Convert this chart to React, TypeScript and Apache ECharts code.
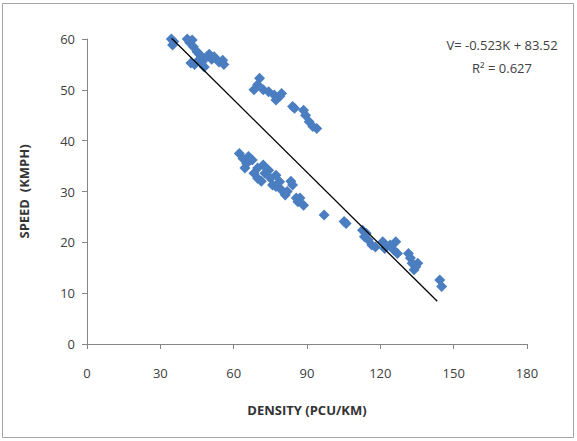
import React, { useEffect, useRef } from "react";
import * as echarts from "echarts";

const densityTicks = [0, 30, 60, 90, 120, 150, 180];
const speedTicks = [0, 10, 20, 30, 40, 50, 60];

// Observed points: [density (PCU/km), speed (km/h)]
const clusterFreeFlow: number[][] = [
  [34.5, 60], [35.5, 59.5], [36, 60.3], [35, 58.8], [41, 60], [42, 59.3], [43, 59.8],
  [43.5, 58.5], [45, 57.5], [46, 57], [42.5, 55.3], [44, 55], [47, 55.5], [48, 54.5],
  [49, 56.5], [50, 57], [51, 56], [52, 56.5], [54, 55.5], [55.5, 55.8], [56, 55], [46, 56],
];
const clusterUpper: number[][] = [
  [70.6, 52.3], [69.8, 51], [68.3, 50], [72.1, 50], [74.3, 49.6], [76.6, 49], [78.8, 48.7],
  [77.3, 48], [79.6, 49.3], [84.1, 46.7], [84.9, 46.4], [88.6, 46], [89.4, 45], [90.9, 43.7],
  [92.4, 42.8], [94, 42.4],
];
const clusterLower: number[][] = [
  [62.3, 37.5], [63.8, 36.5], [66.1, 36.9], [65.3, 35.5], [67.6, 36.2], [64.6, 34.6],
  [68.3, 33.6], [69.8, 32.6], [72.1, 35.2], [72.8, 33.6], [71.3, 32], [75.1, 32.6],
  [75.9, 31.3], [77.3, 31], [78.8, 31.9], [79.6, 30.3], [81.9, 30], [81.1, 29.3],
  [83.4, 32], [84.1, 31.3], [85.6, 28.7], [87.1, 28.7], [86.3, 28], [88.6, 27.3],
  [69.8, 34.6], [74.3, 34.2], [77.3, 33.2],
];
const clusterMid: number[][] = [[97, 25.4], [105.2, 24.1], [106, 23.7]];
const clusterJam: number[][] = [
  [112.7, 22.4], [114.2, 21.8], [115, 20.5], [113.5, 21.1], [116.5, 19.5], [118, 19.1],
  [121, 20.1], [121.8, 18.8], [124, 19.5], [126.3, 20.1], [125.5, 18.5], [127, 17.8],
  [131.5, 17.8], [132.3, 16.9], [133, 15.9], [134.5, 15.2], [135.3, 15.9], [133.8, 14.6],
  [144.3, 12.6], [145.1, 11.3],
];
const trendLine: number[][] = [[34.5, 60.2], [143.3, 8.4]];
const equationLines = ["V= -0.523K + 83.52", "R\u00B2 = 0.627"];

const FONT = "'Liberation Sans Narrow', 'Open Sans', sans-serif";

export default function App() {
  const ref = useRef<HTMLDivElement>(null);
  useEffect(() => {
    if (!ref.current) return;
    const chart = echarts.init(ref.current, undefined, { renderer: "svg" });
    const points = [...clusterFreeFlow, ...clusterUpper, ...clusterLower, ...clusterMid, ...clusterJam];
    chart.setOption({
      animation: false,
      backgroundColor: "#ffffff",
      grid: { left: 87, right: 50, top: 39, bottom: 97 },
      xAxis: {
        type: "value",
        min: densityTicks[0],
        max: densityTicks[densityTicks.length - 1],
        interval: 30,
        name: "DENSITY (PCU/KM)",
        nameLocation: "middle",
        nameGap: 59,
        nameTextStyle: { fontFamily: FONT, fontSize: 13, fontWeight: "bold", color: "#333" },
        axisLine: { lineStyle: { color: "#868686" } },
        axisTick: { length: 5, lineStyle: { color: "#868686" } },
        axisLabel: { margin: 22, fontFamily: FONT, fontSize: 13, color: "#404040" },
        splitLine: { show: false },
      },
      yAxis: {
        type: "value",
        min: speedTicks[0],
        max: speedTicks[speedTicks.length - 1],
        interval: 10,
        name: "SPEED  (KMPH)",
        nameLocation: "middle",
        nameGap: 57,
        nameTextStyle: { fontFamily: FONT, fontSize: 13, fontWeight: "bold", color: "#333" },
        axisLine: { show: true, lineStyle: { color: "#868686" } },
        axisTick: { show: true, length: 5, lineStyle: { color: "#868686" } },
        axisLabel: { margin: 12, fontFamily: FONT, fontSize: 13, color: "#404040" },
        splitLine: { show: false },
      },
      series: [
        {
          type: "scatter",
          data: points,
          symbol: "diamond",
          symbolSize: 11,
          itemStyle: { color: "#4A7EC0", opacity: 1 },
          z: 2,
        },
        {
          type: "line",
          data: trendLine,
          showSymbol: false,
          symbol: "none",
          lineStyle: { color: "#000000", width: 1.3 },
          z: 3,
        },
      ],
      graphic: [
        {
          type: "rect",
          shape: { x: 2.5, y: 3.5, width: 571, height: 434 },
          style: { fill: "none", stroke: "#a6a6a6", lineWidth: 1 },
          silent: true,
        },
        {
          type: "text",
          x: 502,
          y: 45,
          style: {
            text: equationLines[0],
            fontFamily: FONT,
            fontSize: 13,
            fill: "#404040",
            textAlign: "center",
            textVerticalAlign: "middle",
          },
        },
        {
          type: "text",
          x: 502,
          y: 68,
          style: {
            text: equationLines[1],
            fontFamily: FONT,
            fontSize: 13,
            fill: "#404040",
            textAlign: "center",
            textVerticalAlign: "middle",
          },
        },
      ],
    });
    return () => chart.dispose();
  }, []);
  return (
    <div
      ref={ref}
      style={{ position: "fixed", left: 0, top: 0, width: 577, height: 441 }}
    />
  );
}
